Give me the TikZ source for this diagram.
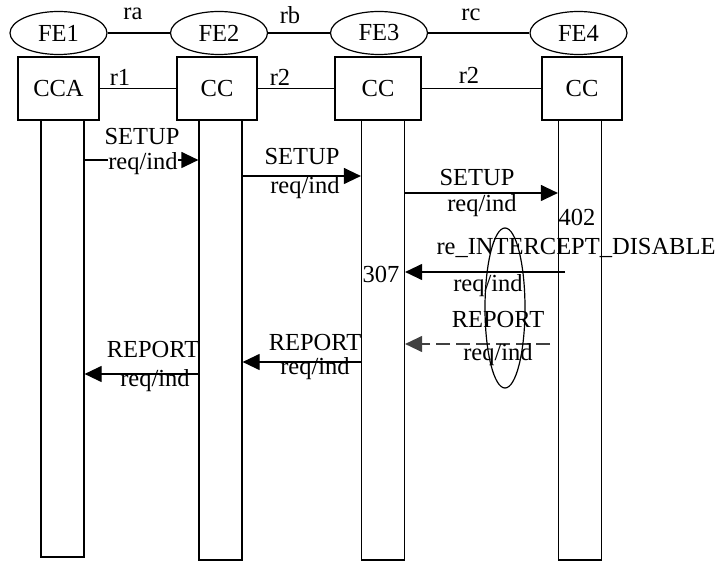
\documentclass[tikz,border=0pt]{standalone}
\usepackage{fontspec}
\setmainfont{Liberation Serif}
\usetikzlibrary{arrows.meta,shapes.geometric}
\begin{document}
\begin{tikzpicture}[x=1pt,y=-1pt,
  every node/.style={font=\fontsize{24.5}{28}\selectfont},
  fe/.style={draw, ellipse, line width=1.2pt, minimum width=97pt, minimum height=43pt, inner sep=0pt},
  ccbox/.style={draw, rectangle, line width=1.2pt, minimum height=63pt, inner sep=0pt},
  life/.style={draw, rectangle, line width=1.2pt, minimum width=43pt, inner sep=0pt},
  link/.style={line width=1.2pt},
  msg/.style={line width=1.2pt, -{Triangle[length=17pt,width=16pt]}},
  dmsg/.style={msg, dash pattern=on 14pt off 6pt},
  lbl/.style={inner sep=0.5pt, fill=white},
  plain/.style={inner sep=0.5pt}]
\useasboundingbox (0,0) rectangle (716,561);

% functional entities
\node[fe] (FE1) at (58.5,33) {FE1};
\node[fe] (FE2) at (219,33) {FE2};
\node[fe] (FE3) at (379,33) {FE3};
\node[fe] (FE4) at (578.5,33) {FE4};

% boxes
\node[ccbox, minimum width=81pt] (B1) at (58.5,88.5) {CCA};
\node[ccbox, minimum width=80pt] (B2) at (217,88.5) {CC};
\node[ccbox, minimum width=86pt] (B3) at (378,88.5) {CC};
\node[ccbox, minimum width=80pt] (B4) at (582,88.5) {CC};

% lifelines
\node[life, minimum height=437pt] (L1) at (62.5,338.5) {};
\node[life, minimum height=440pt] (L2) at (220.5,340) {};
\node[life, minimum height=440pt] (L3) at (383,340) {};
\node[life, minimum height=440pt] (L4) at (580,340) {};

% relations
\draw[link] (FE1) -- (FE2);
\draw[link] (FE2) -- (FE3);
\draw[link] (FE3) -- (FE4);
\draw[link] (B1) -- (B2);
\draw[link] (B2) -- (B3);
\draw[link] (B3) -- (B4);
\node[plain] (ra) at (133,14) {ra};
\node[plain] (rb) at (290,15) {rb};
\node[plain] (rc) at (471,15) {rc};
\node[plain] (r1) at (120,77) {r1};
\node[plain] (r2a) at (280,77) {r2};
\node[plain] (r2b) at (469,75) {r2};

% message rows
\coordinate (y1) at (0,160);
\coordinate (y2) at (0,176);
\coordinate (y3) at (0,193);
\coordinate (y4) at (0,272);
\coordinate (s4) at (565,272);
\coordinate (y5) at (0,344);
\coordinate (s5) at (550,344);
\coordinate (y6) at (0,362);
\coordinate (y7) at (0,374);

\draw[msg] (L1.east |- y1) -- (L2.west |- y1);
\draw[msg] (L2.east |- y2) -- (L3.west |- y2);
\draw[msg] (L3.east |- y3) -- (L4.west |- y3);
\draw[msg] (s4) -- (L3.east |- y4);
\draw[dmsg, draw=black!75] (s5) -- (L3.east |- y5);
\draw[msg] (L3.west |- y6) -- (L2.east |- y6);
\draw[msg] (L2.west |- y7) -- (L1.east |- y7);

% labels
\node[plain] (t1a) at (142,137) {SETUP};
\node[lbl] (t1b) at (143,164) {req/ind};
\node[plain] (t2a) at (302,157) {SETUP};
\node[plain] (t2b) at (305,188) {req/ind};
\node[plain] (t3a) at (477,178) {SETUP};
\node[plain] (t3b) at (482,206) {req/ind};
\node[plain] (n402) at (577,217) {402};
\node[plain] (t4a) at (576,248) {re\_INTERCEPT\_DISABLE};
\node[plain] (n307) at (381,274) {307};
\node[plain] (t4b) at (488,286) {req/ind};
\node[plain] (t5a) at (498,320) {REPORT};
\node[plain] (t5b) at (498,355) {req/ind};
\node[plain] (t6a) at (315,343) {REPORT};
\node[plain] (t6b) at (315,369) {req/ind};
\node[plain] (t7a) at (153,350) {REPORT};
\node[plain] (t7b) at (155,381) {req/ind};

% highlight ellipse
\node[draw, ellipse, line width=1.2pt, minimum width=40pt, minimum height=160pt, inner sep=0pt] (hl) at (505,308) {};
\end{tikzpicture}
\end{document}
